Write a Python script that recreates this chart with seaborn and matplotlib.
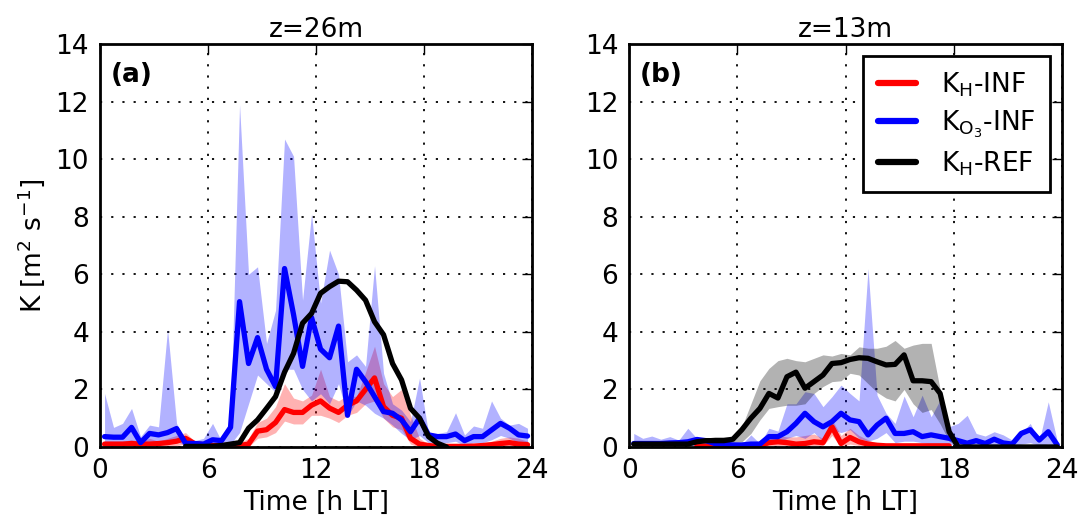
import numpy as np
import pandas as pd
import matplotlib
matplotlib.use("Agg")
import matplotlib.pyplot as plt
import seaborn as sns

# half-hourly time axis (bin centres)
hours = np.arange(48) * 0.5 + 0.25
nan = np.nan

# ---- panel (a): z = 26 m ----
a_kh_inf = [0.1, 0.1, 0.1, 0.12, 0.1, 0.1, 0.12, 0.15, 0.2, 0.3, 0.12, 0.08,
            0.05, 0.05, 0.05, 0.05, 0.1, 0.55, 0.6, 0.85, 1.3, 1.2, 1.2, 1.45,
            1.6, 1.35, 1.2, 1.45, 1.6, 2.0, 2.4, 1.4, 1.1, 1.0, 0.3, 0.1,
            0.05, 0.02, 0.02, 0.02, 0.02, 0.03, 0.05, 0.08, 0.12, 0.15, 0.1, 0.08]
a_kh_inf_lo = [0.0, 0.0, 0.0, 0.0, 0.0, 0.0, 0.0, 0.0, 0.05, 0.1, 0.0, 0.0,
               0.0, 0.0, 0.0, 0.0, 0.0, 0.3, 0.35, 0.5, 0.9, 0.8, 0.8, 1.1,
               1.1, 1.0, 0.85, 1.1, 1.2, 1.5, 1.6, 1.0, 0.7, 0.6, 0.1, 0.0,
               0.0, 0.0, 0.0, 0.0, 0.0, 0.0, 0.0, 0.0, 0.0, 0.0, 0.0, 0.0]
a_kh_inf_hi = [0.2, 0.2, 0.2, 0.25, 0.2, 0.3, 0.2, 0.3, 0.4, 0.5, 0.2, 0.15,
               0.1, 0.1, 0.1, 0.15, 0.3, 0.85, 1.0, 1.4, 2.2, 1.7, 1.6, 1.8,
               2.7, 1.75, 1.6, 1.8, 1.75, 2.6, 3.5, 2.2, 1.75, 2.0, 1.1, 0.3,
               0.1, 0.05, 0.05, 0.05, 0.05, 0.1, 0.15, 0.2, 0.3, 0.35, 0.3, 0.2]
a_ko3_inf = [0.36, 0.34, 0.34, 0.68, 0.15, 0.47, 0.42, 0.5, 0.64, 0.13, 0.12, 0.1,
             0.25, 0.22, 0.68, 5.05, 2.9, 3.8, 2.7, 2.1, 6.2, 4.6, 2.8, 4.5,
             3.4, 3.1, 4.2, 1.1, 2.7, 2.27, 1.75, 1.23, 1.17, 0.94, 0.53, 1.0,
             0.42, 0.36, 0.36, 0.45, 0.22, 0.36, 0.36, 0.59, 0.82, 0.65, 0.42, 0.38]
a_ko3_inf_lo = [0.1, 0.1, 0.1, 0.2, 0.05, 0.15, 0.15, 0.2, 0.2, 0.05, 0.05, 0.05,
                0.1, 0.1, 0.1, 0.5, 1.5, 2.5, 2.2, 1.9, 2.7, 2.7, 2.0, 1.6,
                1.85, 1.5, 2.2, 1.05, 1.6, 1.45, 1.17, 1.0, 0.76, 0.47, 0.25, 0.4,
                0.15, 0.15, 0.15, 0.2, 0.05, 0.15, 0.15, 0.25, 0.4, 0.3, 0.15, 0.15]
a_ko3_inf_hi = [1.86, 0.68, 0.82, 1.34, 0.36, 0.76, 0.7, 4.1, 0.82, 0.22, 0.22, 0.3,
                0.82, 0.2, 0.94, 11.9, 6.0, 6.26, 3.6, 4.75, 10.7, 10.1, 5.1, 8.1,
                5.0, 6.84, 6.0, 2.96, 3.2, 2.8, 6.3, 2.56, 1.5, 1.28, 0.88, 2.4,
                0.47, 0.47, 0.53, 1.19, 0.42, 0.73, 0.65, 1.6, 1.0, 0.76, 0.82, 0.65]
a_kh_ref = [nan, nan, nan, nan, nan, nan, nan, nan, nan, 0.02, 0.02, 0.02,
            0.03, 0.05, 0.1, 0.15, 0.65, 0.94, 1.34, 1.75, 2.6, 3.25, 4.3, 4.64,
            5.34, 5.57, 5.76, 5.74, 5.45, 5.1, 4.35, 3.9, 2.9, 2.33, 1.34, 1.0,
            0.36, 0.13, 0.0, nan, nan, nan, nan, nan, nan, nan, nan, nan]

# ---- panel (b): z = 13 m ----
b_kh_inf = [nan, nan, nan, nan, nan, nan, nan, 0.03, 0.03, 0.03, 0.03, 0.03,
            0.03, 0.03, 0.05, 0.15, 0.18, 0.15, 0.1, 0.12, 0.18, 0.15, 0.7, 0.12,
            0.33, 0.18, 0.1, 0.06, 0.04, 0.04, 0.04, 0.04, 0.04, 0.04, 0.04, 0.04,
            nan, nan, nan, nan, nan, nan, nan, nan, nan, nan, nan, nan]
b_kh_inf_lo = [nan, nan, nan, nan, nan, nan, nan, 0.0, 0.0, 0.0, 0.0, 0.0,
               0.0, 0.0, 0.0, 0.05, 0.05, 0.05, 0.0, 0.0, 0.05, 0.05, 0.4, 0.0,
               0.1, 0.05, 0.0, 0.0, 0.0, 0.0, 0.0, 0.0, 0.0, 0.0, 0.0, 0.0,
               nan, nan, nan, nan, nan, nan, nan, nan, nan, nan, nan, nan]
b_kh_inf_hi = [nan, nan, nan, nan, nan, nan, nan, 0.06, 0.06, 0.06, 0.06, 0.06,
               0.06, 0.08, 0.15, 0.3, 0.4, 0.35, 0.35, 0.4, 0.45, 0.3, 0.95, 0.4,
               0.65, 0.4, 0.25, 0.12, 0.08, 0.08, 0.08, 0.08, 0.08, 0.08, 0.08, 0.08,
               nan, nan, nan, nan, nan, nan, nan, nan, nan, nan, nan, nan]
b_ko3_inf = [0.12, 0.12, 0.12, 0.12, 0.14, 0.15, 0.18, 0.26, 0.22, 0.12, 0.1, 0.07,
             0.07, 0.1, 0.1, 0.36, 0.36, 0.53, 0.82, 1.17, 0.88, 0.7, 0.88, 1.17,
             0.94, 0.88, 0.42, 0.76, 1.0, 0.47, 0.47, 0.53, 0.36, 0.42, 0.36, 0.3,
             0.22, 0.13, 0.22, 0.12, 0.27, 0.14, 0.1, 0.47, 0.6, 0.24, 0.53, 0.07]
b_ko3_inf_lo = [0.05, 0.05, 0.05, 0.05, 0.05, 0.05, 0.05, 0.05, 0.05, 0.05, 0.03, 0.03,
                0.03, 0.03, 0.03, 0.1, 0.15, 0.3, 0.4, 0.3, 0.5, 0.2, 0.6, 0.5,
                0.6, 0.3, 0.2, 0.3, 0.5, 0.15, 0.2, 0.2, 0.15, 0.1, 0.1, 0.1,
                0.05, 0.03, 0.05, 0.03, 0.05, 0.03, 0.03, 0.1, 0.15, 0.05, 0.1, 0.02]
b_ko3_inf_hi = [0.47, 0.3, 0.38, 0.27, 0.36, 0.24, 0.65, 0.3, 0.2, 0.14, 0.1, 0.12,
                0.1, 0.42, 0.12, 0.65, 0.55, 1.5, 1.5, 1.92, 1.86, 1.4, 1.75, 2.15,
                1.86, 1.6, 6.2, 1.8, 1.17, 0.82, 1.77, 1.05, 1.8, 1.05, 1.63, 0.7,
                0.82, 1.1, 0.47, 0.38, 0.53, 0.42, 0.24, 0.47, 0.82, 0.2, 1.57, 0.2]
b_kh_ref = [0.1, 0.1, 0.1, 0.1, 0.1, 0.1, 0.1, 0.18, 0.22, 0.22, 0.22, 0.27,
            0.6, 1.0, 1.34, 1.86, 1.7, 2.44, 2.6, 2.04, 2.27, 2.5, 2.9, 2.93,
            3.04, 3.1, 3.08, 2.96, 2.85, 2.87, 3.2, 2.3, 2.3, 2.27, 1.86, 0.53,
            0.0, 0.0, 0.0, 0.0, 0.0, 0.0, 0.0, 0.0, 0.0, 0.0, 0.0, 0.0]
b_kh_ref_lo = [0.05, 0.05, 0.05, 0.05, 0.05, 0.05, 0.05, 0.1, 0.12, 0.12, 0.12, 0.15,
               0.18, 0.47, 0.94, 1.34, 1.4, 1.45, 1.45, 1.5, 1.86, 2.1, 2.27, 2.3,
               2.56, 2.5, 2.2, 1.9, 1.7, 1.6, 2.0, 1.5, 1.2, 1.3, 0.8, 0.2,
               0.0, 0.0, 0.0, 0.0, 0.0, 0.0, 0.0, 0.0, 0.0, 0.0, 0.0, 0.0]
b_kh_ref_hi = [0.15, 0.15, 0.15, 0.15, 0.15, 0.15, 0.15, 0.25, 0.3, 0.36, 0.36, 0.36,
               0.7, 1.5, 2.3, 2.73, 3.0, 3.08, 3.0, 2.96, 3.08, 3.2, 3.16, 3.25,
               3.2, 3.48, 3.43, 3.43, 3.5, 3.7, 3.43, 3.54, 3.6, 3.6, 2.0, 0.6,
               0.0, 0.0, 0.0, 0.0, 0.0, 0.0, 0.0, 0.0, 0.0, 0.0, 0.0, 0.0]

titles = ["z=26m", "z=13m"]
panel_tags = ["(a)", "(b)"]
x_ticks = [0, 6, 12, 18, 24]
y_ticks = [0, 2, 4, 6, 8, 10, 12, 14]

sns.set_style("white")
plt.rcParams['font.family'] = ['DejaVu Sans']
plt.rcParams['mathtext.default'] = 'regular'
plt.rcParams['text.color'] = 'black'
plt.rcParams['axes.labelcolor'] = 'black'
plt.rcParams['xtick.color'] = 'black'
plt.rcParams['ytick.color'] = 'black'

fs = 19

fig = plt.figure(figsize=(10.84, 5.24), dpi=100)
ax_a = fig.add_axes([0.0923, 0.147, 0.3985, 0.769])
ax_b = fig.add_axes([0.5805, 0.147, 0.3990, 0.769])

lw = 3.8
series_a = [
    ("red", a_kh_inf, a_kh_inf_lo, a_kh_inf_hi),
    ("blue", a_ko3_inf, a_ko3_inf_lo, a_ko3_inf_hi),
    ("black", a_kh_ref, None, None),
]
series_b = [
    ("red", b_kh_inf, b_kh_inf_lo, b_kh_inf_hi),
    ("blue", b_ko3_inf, b_ko3_inf_lo, b_ko3_inf_hi),
    ("black", b_kh_ref, b_kh_ref_lo, b_kh_ref_hi),
]
labels = ["K$_H$-INF", "K$_{O_3}$-INF", "K$_H$-REF"]

for ax, series, title, tag in [(ax_a, series_a, titles[0], panel_tags[0]),
                               (ax_b, series_b, titles[1], panel_tags[1])]:
    # shaded bands first
    for color, mid, lo, hi in series:
        if lo is not None:
            ax.fill_between(hours, lo, hi, color=color, alpha=0.3, lw=0)
    for (color, mid, lo, hi), lab in zip(series, labels):
        df = pd.DataFrame({"t": hours, "K": mid})
        sns.lineplot(data=df, x="t", y="K", color=color, lw=lw, ax=ax,
                     label=lab, legend=False)
    ax.set_xlim(0, 24)
    ax.set_ylim(0, 14)
    ax.set_xticks(x_ticks)
    ax.set_yticks(y_ticks)
    ax.grid(True, color="black", linestyle=(0, (1.2, 5)), linewidth=1.3)
    ax.tick_params(direction="in", top=True, right=True, length=7, width=1,
                   labelsize=fs, pad=8)
    for sp in ax.spines.values():
        sp.set_linewidth(2)
        sp.set_color("black")
    ax.set_title(title, fontsize=fs, pad=5)
    ax.set_xlabel("Time [h LT]", fontsize=fs, labelpad=4)
    ax.set_ylabel("")
    ax.text(0.025, 0.955, tag, transform=ax.transAxes, fontsize=fs,
            fontweight="bold", va="top", ha="left")

ax_a.set_ylabel("K [m$^2$ s$^{-1}$]", fontsize=fs, labelpad=6)

leg = ax_b.legend(loc="upper right", fontsize=fs, frameon=True, fancybox=False,
                  framealpha=1, handlelength=1.45, borderaxespad=0.45,
                  handletextpad=0.95, labelspacing=0.35, borderpad=0.55)
leg.get_frame().set_edgecolor("black")
leg.get_frame().set_linewidth(2)
for line in leg.get_lines():
    line.set_linewidth(4.5)

fig.savefig("out.png", dpi=100)
